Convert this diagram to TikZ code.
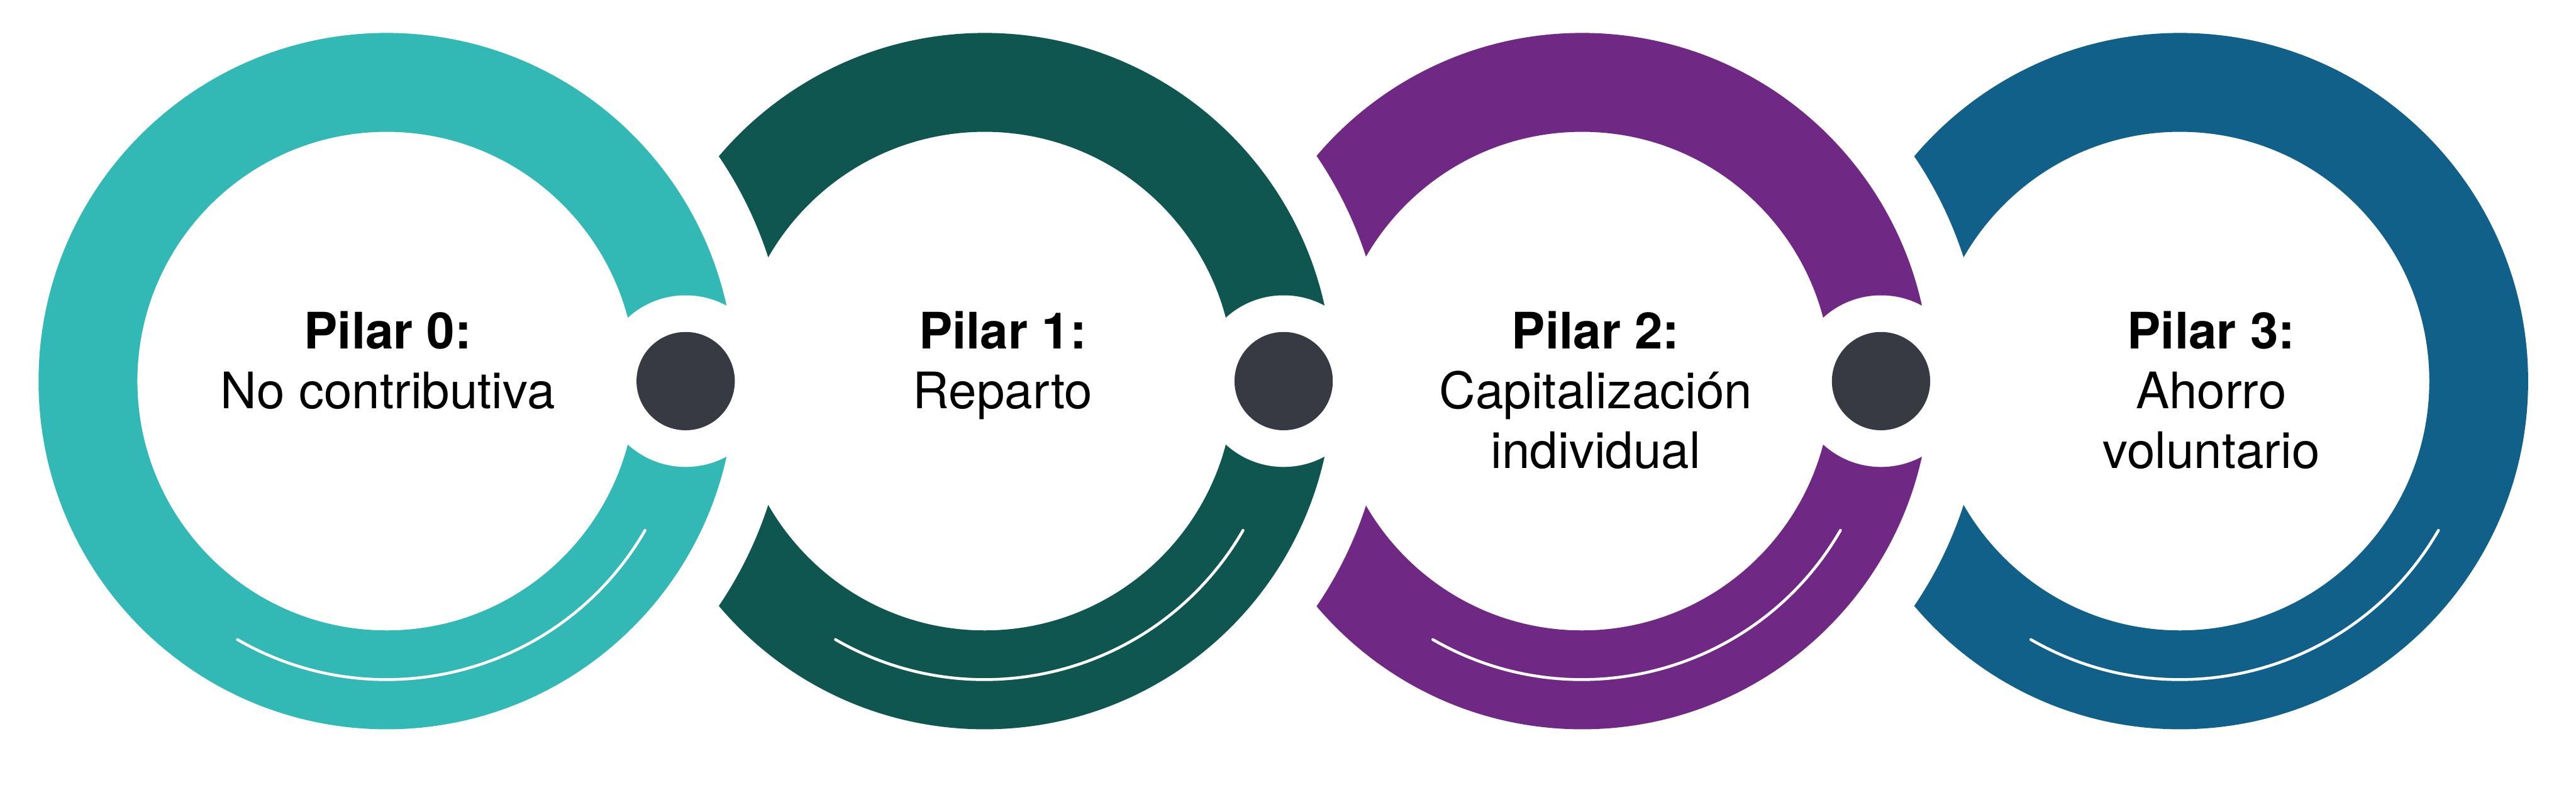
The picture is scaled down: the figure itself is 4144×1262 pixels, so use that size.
\documentclass[tikz,border=0pt]{standalone}
\usepackage{fontspec}
\setmainfont{TeX Gyre Heros}
\usepackage{xcolor}
\usetikzlibrary{positioning}

\definecolor{pilarteal}{HTML}{32B8B5}
\definecolor{pilargreen}{HTML}{0E564F}
\definecolor{pilarpurple}{HTML}{6F2984}
\definecolor{pilarblue}{HTML}{11608A}
\definecolor{hubgray}{HTML}{373A43}

\begin{document}
\begin{tikzpicture}[
    x=0.01cm, y=0.01cm,
    ring/.style={fill=#1, even odd rule},
    gap/.style={fill=white},
    hub/.style={circle, fill=hubgray, minimum size=1.58cm, inner sep=0pt},
    shine/.style={draw=white, line width=1.3pt, line cap=round},
    pilar/.style={align=center, anchor=north, inner sep=0pt, font=\fontsize{23}{27.3}\selectfont}
]
\fill[white] (0,0) rectangle (4144,1262);
\useasboundingbox (0,0) rectangle (4144,1262);

\coordinate (c0) at (622,649);
\coordinate (c1) at (1584,649);
\coordinate (c2) at (2545,649);
\coordinate (c3) at (3507,649);

% rings, painted from right to left
\fill[ring=pilarblue] (c3) circle (560) (c3) circle (401);
\fill[gap] (c2) circle (645);
\fill[ring=pilarpurple] (c2) circle (560) (c2) circle (401);
\fill[gap] (3026,649) circle (138);
\fill[gap] (c1) circle (645);
\fill[ring=pilargreen] (c1) circle (560) (c1) circle (401);
\fill[gap] (2065,649) circle (138);
\fill[gap] (c0) circle (645);
\fill[ring=pilarteal] (c0) circle (560) (c0) circle (401);
\fill[gap] (1103,649) circle (138);

% thin highlights
\draw[shine] (c0) ++(-120:480) arc[start angle=-120, end angle=-30, radius=480];
\draw[shine] (c1) ++(-120:480) arc[start angle=-120, end angle=-30, radius=480];
\draw[shine] (c2) ++(-120:480) arc[start angle=-120, end angle=-30, radius=480];
\draw[shine] (c3) ++(-120:480) arc[start angle=-120, end angle=-30, radius=480];

% hubs
\node[hub] (h1) at (1103,649) {};
\node[hub] (h2) at (2065,649) {};
\node[hub] (h3) at (3026,649) {};

% labels
\node[pilar] (p0) at (624,762) {\textbf{Pilar 0:}\\No contributiva};
\node[pilar] (p1) at (1613,762) {\textbf{Pilar 1:}\\Reparto};
\node[pilar] (p2) at (2567,762) {\textbf{Pilar 2:}\\Capitalización\\individual};
\node[pilar] (p3) at (3557,762) {\textbf{Pilar 3:}\\Ahorro\\voluntario};
\end{tikzpicture}
\end{document}
